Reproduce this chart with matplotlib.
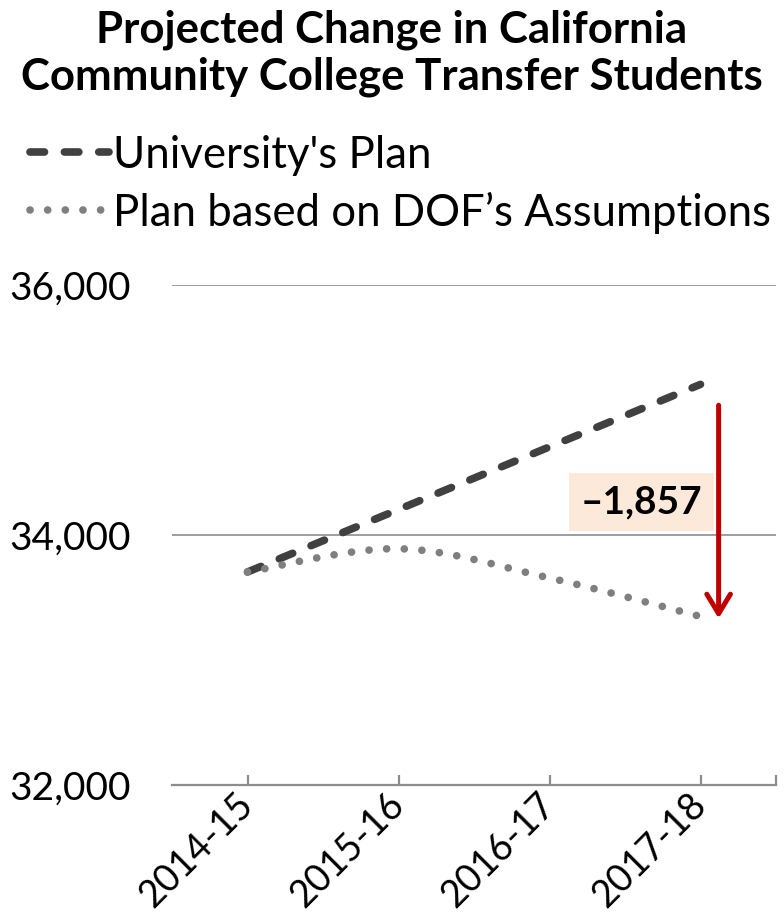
import matplotlib
matplotlib.use('Agg')
import matplotlib.pyplot as plt
import numpy as np

years = ['2014-15', '2015-16', '2016-17', '2017-18']
university = [33704, 34204, 34705, 35205]
dof = [33704, 33890, 33656, 33348]
gap_label = '\u20131,857'

plt.rcParams['font.family'] = ['Lato', 'DejaVu Sans']


def smooth(xs, ys, n=40):
    # excel style smoothed line (bezier through the points)
    p = np.column_stack([xs, ys]).astype(float)
    p = np.vstack([p[0], p, p[-1]])
    out = []
    for i in range(1, len(p) - 2):
        p0, p1, p2, p3 = p[i - 1], p[i], p[i + 1], p[i + 2]
        c1 = p1 + (p2 - p0) / 6
        c2 = p2 - (p3 - p1) / 6
        t = np.linspace(0, 1, n)[:, None]
        seg = ((1 - t) ** 3) * p1 + 3 * ((1 - t) ** 2) * t * c1 + 3 * (1 - t) * t ** 2 * c2 + t ** 3 * p2
        out.append(seg if i == 1 else seg[1:])
    out = np.vstack(out)
    return out[:, 0], out[:, 1]


fig = plt.figure(figsize=(7.84, 9.17), dpi=100)
ax = fig.add_axes([0.2194, 0.144, 0.7704, 0.5452])

x = np.arange(len(years))
ax.plot(x, university, color='#404040', lw=5.5, linestyle=(0, (1.9, 2.6)),
        dash_capstyle='round', label="University's Plan", zorder=3)
sx, sy = smooth(x, dof)
ax.plot(sx, sy, color='#7f7f7f', lw=5.5, linestyle=(0, (0.01, 2.3)),
        dash_capstyle='round', label='Plan based on DOF\u2019s Assumptions', zorder=3)

ax.set_xlim(-0.5, 3.5)
ax.set_ylim(32000, 36000)
ax.set_yticks([32000, 34000, 36000])
ax.set_yticklabels(['32,000', '34,000', '36,000'])
ax.set_xticks(x)
ax.set_xticks([3.5], minor=True)
ax.set_xticklabels(years, rotation=45, ha='right', va='center', rotation_mode='anchor')
ax.grid(axis='y', color='#959595', lw=1.3)
ax.set_axisbelow(True)

for s in ['left', 'right', 'top']:
    ax.spines[s].set_visible(False)
ax.spines['bottom'].set_color('#8c8c8c')
ax.spines['bottom'].set_linewidth(1.6)
ax.tick_params(axis='y', length=0, pad=30, labelsize=28)
ax.tick_params(axis='x', which='both', direction='in', length=7, width=1.6,
               color='#8c8c8c', labelsize=27, pad=10)

# difference arrow and label
ax.annotate('', xy=(3.12, 33310), xytext=(3.12, 35060),
            arrowprops=dict(arrowstyle='->,head_length=1.4,head_width=0.85',
                            color='#c00000', lw=3.6))
ax.text(2.61, 34264, gap_label, ha='center', va='center', fontsize=28,
        fontweight='bold',
        bbox=dict(boxstyle='square,pad=0.3', facecolor='#fde9d9', edgecolor='none'))

fig.text(0.5, 0.99, 'Projected Change in California\nCommunity College Transfer Students',
         ha='center', va='top', fontsize=31.5, fontweight='bold', linespacing=1.22)

ax.legend(loc='upper left', bbox_to_anchor=(0.038, 0.853), bbox_transform=fig.transFigure,
          frameon=False, fontsize=31.5, handlelength=1.8, handletextpad=0.1,
          labelspacing=0.36, borderaxespad=0, borderpad=0)

fig.savefig('out.png', dpi=100)
